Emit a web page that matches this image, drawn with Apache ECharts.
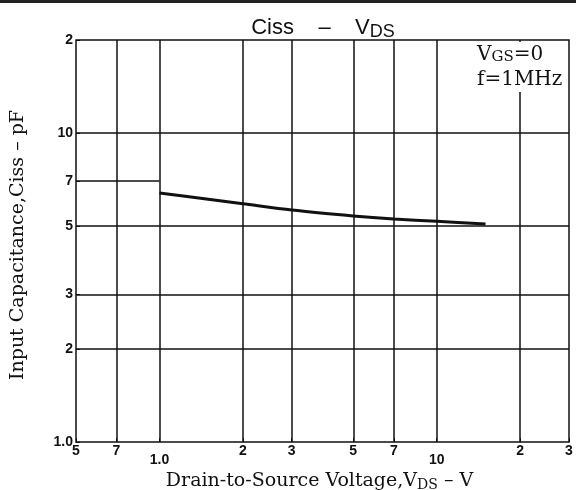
<!DOCTYPE html>
<html>
<head>
<meta charset="utf-8">
<script src="https://cdn.jsdelivr.net/npm/echarts@6/dist/echarts.min.js"></script>
<style>
  html, body { margin: 0; padding: 0; background: #fff; }
  #chart { width: 576px; height: 490px; }
</style>
</head>
<body>
<div id="chart"></div>
<script>
// Ciss vs VDS
const vds = [1.0, 1.5, 2, 3, 5, 7, 10, 15]
const ciss = [6.4, 6.1, 5.9, 5.63, 5.39, 5.27, 5.18, 5.08]

const xTicks = [0.5, 0.7, 1, 2, 3, 5, 7, 10, 20, 30]
const xTickLabels = ['5', '7', '1.0', '2', '3', '5', '7', '10', '2', '3']
const yTicks = [1, 2, 3, 5, 7, 10, 20]
const yTickLabels = ['1.0', '2', '3', '5', '7', '10', '2']

const xGrid = [0.7, 1, 2, 3, 5, 7, 10, 20]
const yGrid = [2, 3, 5, 10]

const chart = echarts.init(document.getElementById('chart'))
const ink = '#111'
const serif = '"DejaVu Serif", "Liberation Serif", serif'
const sans = '"Liberation Sans", Arial, sans-serif'

const lookup = (ticks, labels) => v => {
  const i = ticks.findIndex(t => Math.abs(t - v) / t < 1e-6)
  return i < 0 ? '' : labels[i]
}
const xLabel = lookup(xTicks, xTickLabels)
const yLabel = lookup(yTicks, yTickLabels)

const gridLines = [
  ...xGrid.map(v => ({ xAxis: v })),
  ...yGrid.map(v => ({ yAxis: v })),
  [{ coord: [0.5, 7] }, { coord: [1, 7] }] // 7pF line only drawn at the left
]

const option = {
  animation: false,
  title: {
    text: 'Ciss    –    V{sub|DS}',
    left: 318,
    textAlign: 'center',
    top: 9,
    textStyle: {
      fontFamily: sans, fontSize: 22, fontWeight: 'normal', color: ink,
      rich: { sub: { fontFamily: sans, fontSize: 18, color: ink, padding: [9, 0, 0, 0] } }
    }
  },
  grid: {
    left: 76, right: 7, top: 40, bottom: 48,
    outerBoundsMode: 'none',
    show: true, borderColor: ink, borderWidth: 1.5, backgroundColor: 'transparent'
  },
  xAxis: {
    type: 'log',
    min: 0.5, max: 30,
    name: 'Drain-to-Source Voltage,V{sub|DS} – V',
    nameLocation: 'middle',
    nameGap: 21,
    nameTextStyle: {
      fontFamily: serif, fontSize: 19, color: ink, padding: [0, 6, 0, 0],
      rich: { sub: { fontFamily: serif, fontSize: 14, color: ink, padding: [8, 0, 0, 0] } }
    },
    axisLine: { show: false },
    axisTick: { show: true, customValues: xTicks, inside: true, length: 4, lineStyle: { color: ink } },
    splitLine: { show: false },
    minorTick: { show: false },
    axisLabel: {
      customValues: xTicks,
      margin: 2,
      fontFamily: sans, fontSize: 14, fontWeight: 'bold', color: ink,
      formatter: v => {
        const s = xLabel(v)
        return (s === '1.0' || s === '10') ? '{low|' + s + '}' : s
      },
      rich: { low: { fontFamily: sans, fontSize: 14, fontWeight: 'bold', color: ink, padding: [9, 0, 0, 0] } }
    }
  },
  yAxis: {
    type: 'log',
    min: 1, max: 20,
    name: 'Input Capacitance,Ciss – pF',
    nameLocation: 'middle',
    nameGap: 48,
    nameTextStyle: { fontFamily: serif, fontSize: 19, color: ink, padding: [0, 8, 0, 0] },
    axisLine: { show: false },
    axisTick: { show: true, customValues: yTicks, inside: true, length: 4, lineStyle: { color: ink } },
    splitLine: { show: false },
    minorTick: { show: false },
    axisLabel: {
      customValues: yTicks,
      margin: 3,
      fontFamily: sans, fontSize: 14, fontWeight: 'bold', color: ink,
      formatter: v => yLabel(v)
    }
  },
  graphic: [
    { type: 'rect', shape: { x: 0, y: 0, width: 576, height: 3 }, style: { fill: '#222' } },
    {
      type: 'text', left: 475, top: 42, z: 10,
      style: {
        text: 'V{sub|GS}=0\nf=1MHz',
        align: 'left',
        fontFamily: serif, fontSize: 20, lineHeight: 25, fill: ink,
        backgroundColor: '#fff', padding: [0, 2, 0, 2],
        rich: { sub: { fontFamily: serif, fontSize: 15, fill: ink, padding: [6, 0, 0, 0] } }
      }
    }
  ],
  series: [
    {
      type: 'line',
      data: vds.map((v, i) => [v, ciss[i]]),
      smooth: 0.3,
      symbol: 'none',
      lineStyle: { color: ink, width: 3 },
      z: 3,
      markLine: {
        silent: true,
        symbol: 'none',
        label: { show: false },
        lineStyle: { color: ink, width: 1.5, type: 'solid' },
        data: gridLines
      }
    }
  ]
}

chart.setOption(option)
</script>
</body>
</html>
